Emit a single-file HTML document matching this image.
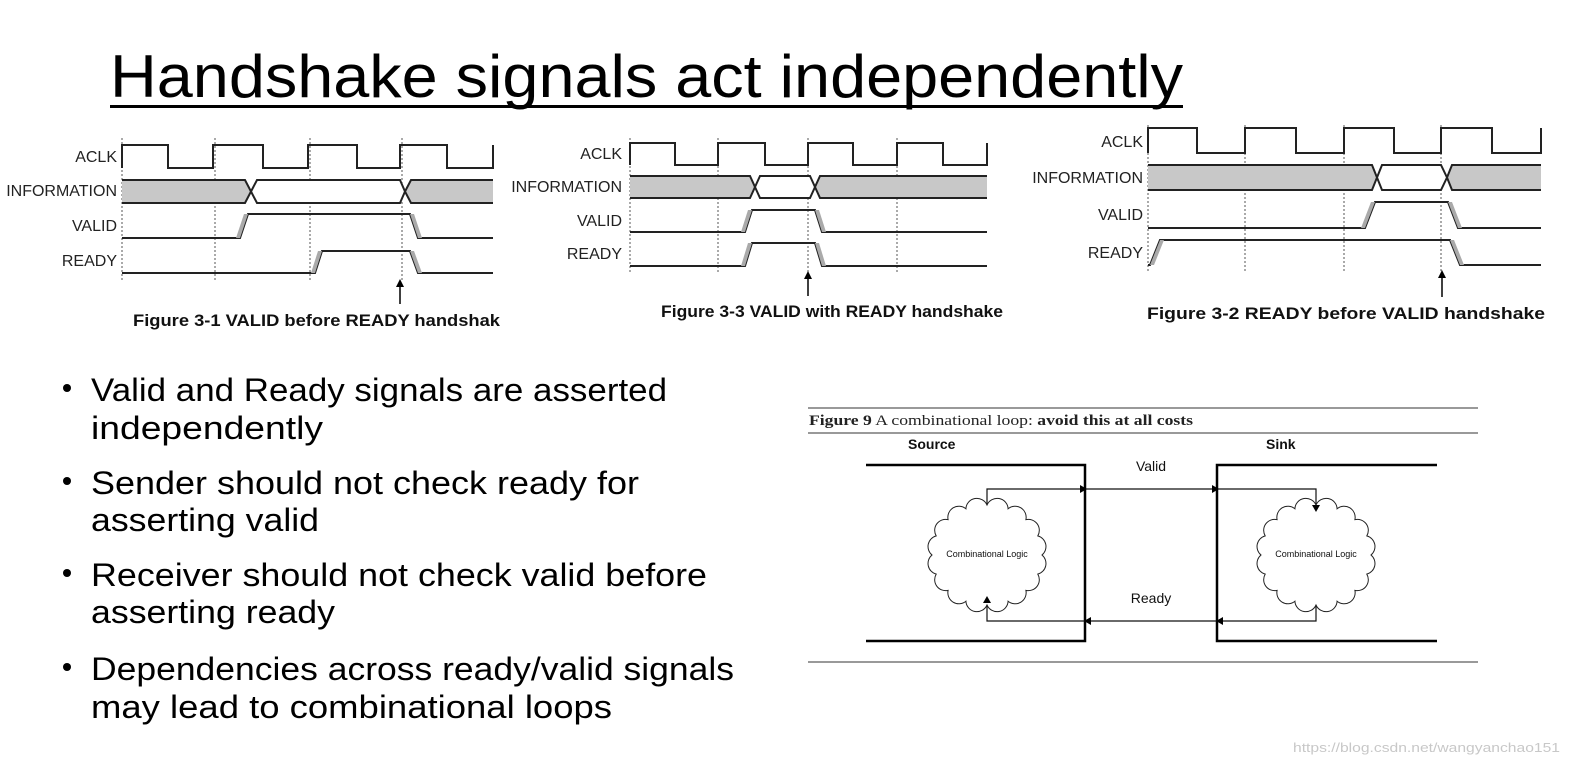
<!DOCTYPE html>
<html><head><meta charset="utf-8"><style>
html,body{margin:0;padding:0;background:#fff;}
svg{display:block;}
</style></head><body>
<svg width="1588" height="775" viewBox="0 0 1588 775" xmlns="http://www.w3.org/2000/svg">
<defs>
<path id="cloud" d="M55,0 A11,11 0 0 1 50.8,19.1 A11,11 0 0 1 38.9,35.4 A11,11 0 0 1 21.1,46.2 A11,11 0 0 1 0,50 A11,11 0 0 1 -21.1,46.2 A11,11 0 0 1 -38.9,35.4 A11,11 0 0 1 -50.8,19.1 A11,11 0 0 1 -55,0 A11,11 0 0 1 -50.8,-19.1 A11,11 0 0 1 -38.9,-35.4 A11,11 0 0 1 -21.1,-46.2 A11,11 0 0 1 0,-50 A11,11 0 0 1 21.1,-46.2 A11,11 0 0 1 38.9,-35.4 A11,11 0 0 1 50.8,-19.1 A11,11 0 0 1 55,0 Z" fill="#fff" stroke="#222" stroke-width="1"/>
</defs>
<rect width="1588" height="775" fill="#fff"/>
<!-- Title -->
<text x="110" y="97" font-family="Liberation Sans, sans-serif" font-size="60" textLength="1073" lengthAdjust="spacingAndGlyphs" fill="#000">Handshake signals act independently</text>
<rect x="110" y="105" width="1073" height="3" fill="#000"/>

<g font-family="Liberation Sans, sans-serif" fill="#222" font-size="16">
<!-- Fig 1 -->
<g text-anchor="end"><text x="117" y="162">ACLK</text><text x="117" y="196">INFORMATION</text><text x="117" y="231">VALID</text><text x="117" y="266">READY</text></g>
<g stroke="#555" stroke-dasharray="2,2" stroke-width="1"><line x1="122" y1="138" x2="122" y2="280"/><line x1="215" y1="138" x2="215" y2="280"/><line x1="310" y1="138" x2="310" y2="280"/><line x1="402" y1="138" x2="402" y2="280"/></g>
<g stroke="#222" stroke-width="2" fill="none">
<path d="M122,168 V145 H168 V168 H213 V145 H263 V168 H308 V145 H357 V168 H400 V145 H447 V168 H493 V145"/>
<path d="M122,180 H245 L251,191.5 L245,203 H122" fill="#c8c8c8"/>
<path d="M251,191.5 L257,180 H400 L405,191.5 L400,203 H257 Z" fill="#fff"/>
<path d="M493,180 H411 L405,191.5 L411,203 H493" fill="#c8c8c8"/>
<path d="M122,238 H240 L248,214 H410 L418,238 H493"/>
<path d="M122,273 H315 L322,251 H410 L418,273 H493"/>
</g>
<g fill="#aaa"><polygon points="236,238 240,238 248,214 244,214"/><polygon points="410,214 414,214 422,238 418,238"/><polygon points="311,273 315,273 322,251 318,251"/><polygon points="410,251 414,251 422,273 418,273"/></g>
<line x1="400" y1="304" x2="400" y2="284" stroke="#000" stroke-width="1.5"/><polygon points="396,287 404,287 400,279" fill="#000"/>
<text x="133" y="326" font-weight="bold" font-size="16.5" fill="#111" textLength="367" lengthAdjust="spacingAndGlyphs">Figure 3-1 VALID before READY handshak</text>

<!-- Fig 3 -->
<g text-anchor="end"><text x="622" y="159">ACLK</text><text x="622" y="192">INFORMATION</text><text x="622" y="226">VALID</text><text x="622" y="259">READY</text></g>
<g stroke="#555" stroke-dasharray="2,2" stroke-width="1"><line x1="630" y1="138" x2="630" y2="272"/><line x1="718" y1="138" x2="718" y2="272"/><line x1="808" y1="138" x2="808" y2="272"/><line x1="897" y1="138" x2="897" y2="272"/></g>
<g stroke="#222" stroke-width="2" fill="none">
<path d="M630,165 V143 H675 V165 H718 V143 H765 V165 H808 V143 H853 V165 H897 V143 H943 V165 H987 V143"/>
<path d="M630,176 H750 L755,187 L750,198 H630" fill="#c8c8c8"/>
<path d="M755,187 L760,176 H810 L815,187 L810,198 H760 Z" fill="#fff"/>
<path d="M987,176 H820 L815,187 L820,198 H987" fill="#c8c8c8"/>
<path d="M630,232 H745 L752,210 H815 L822,232 H987"/>
<path d="M630,266 H745 L752,243 H815 L822,266 H987"/>
</g>
<g fill="#aaa"><polygon points="741,232 745,232 752,210 748,210"/><polygon points="815,210 819,210 826,232 822,232"/><polygon points="741,266 745,266 752,243 748,243"/><polygon points="815,243 819,243 826,266 822,266"/></g>
<line x1="808" y1="296" x2="808" y2="276" stroke="#000" stroke-width="1.5"/><polygon points="804,279 812,279 808,271" fill="#000"/>
<text x="661" y="317" font-weight="bold" font-size="16.5" fill="#111" textLength="342" lengthAdjust="spacingAndGlyphs">Figure 3-3 VALID with READY handshake</text>

<!-- Fig 2 -->
<g text-anchor="end"><text x="1143" y="147">ACLK</text><text x="1143" y="183">INFORMATION</text><text x="1143" y="220">VALID</text><text x="1143" y="258">READY</text></g>
<g stroke="#555" stroke-dasharray="2,2" stroke-width="1"><line x1="1148" y1="125" x2="1148" y2="272"/><line x1="1245" y1="125" x2="1245" y2="272"/><line x1="1344" y1="125" x2="1344" y2="272"/><line x1="1441" y1="125" x2="1441" y2="272"/></g>
<g stroke="#222" stroke-width="2" fill="none">
<path d="M1148,153 V128 H1197 V153 H1245 V128 H1296 V153 H1344 V128 H1394 V153 H1441 V128 H1492 V153 H1541 V128"/>
<path d="M1148,165 H1372 L1377,177.5 L1372,190 H1148" fill="#c8c8c8"/>
<path d="M1377,177.5 L1382,165 H1441 L1447,177.5 L1441,190 H1382 Z" fill="#fff"/>
<path d="M1541,165 H1452 L1447,177.5 L1452,190 H1541" fill="#c8c8c8"/>
<path d="M1148,228 H1365 L1375,202 H1448 L1458,228 H1541"/>
<path d="M1148,265 H1150 L1160,240 H1450 L1460,265 H1541"/>
</g>
<g fill="#aaa"><polygon points="1361,228 1365,228 1375,202 1371,202"/><polygon points="1448,202 1452,202 1462,228 1458,228"/><polygon points="1150,265 1154,265 1164,240 1160,240"/><polygon points="1450,240 1454,240 1464,265 1460,265"/></g>
<line x1="1442" y1="297" x2="1442" y2="275" stroke="#000" stroke-width="1.5"/><polygon points="1438,278 1446,278 1442,270" fill="#000"/>
<text x="1147" y="319" font-weight="bold" font-size="16.5" fill="#111" textLength="398" lengthAdjust="spacingAndGlyphs">Figure 3-2 READY before VALID handshake</text>
</g>

<!-- Bullets -->
<g font-family="Liberation Sans, sans-serif" font-size="32" fill="#000" lengthAdjust="spacingAndGlyphs">
<circle cx="67" cy="388" r="4"/><text x="91" y="401" textLength="576" lengthAdjust="spacingAndGlyphs">Valid and Ready signals are asserted</text><text x="91" y="439" textLength="232" lengthAdjust="spacingAndGlyphs">independently</text>
<circle cx="67" cy="481" r="4"/><text x="91" y="494" textLength="548" lengthAdjust="spacingAndGlyphs">Sender should not check ready for</text><text x="91" y="531" textLength="228" lengthAdjust="spacingAndGlyphs">asserting valid</text>
<circle cx="67" cy="573" r="4"/><text x="91" y="586" textLength="616" lengthAdjust="spacingAndGlyphs">Receiver should not check valid before</text><text x="91" y="623" textLength="244" lengthAdjust="spacingAndGlyphs">asserting ready</text>
<circle cx="67" cy="667" r="4"/><text x="91" y="680" textLength="643" lengthAdjust="spacingAndGlyphs">Dependencies across ready/valid signals</text><text x="91" y="718" textLength="521" lengthAdjust="spacingAndGlyphs">may lead to combinational loops</text>
</g>

<!-- Figure 9 -->
<g>
<line x1="808" y1="408" x2="1478" y2="408" stroke="#999" stroke-width="2"/>
<line x1="808" y1="433" x2="1478" y2="433" stroke="#999" stroke-width="2"/>
<line x1="808" y1="662" x2="1478" y2="662" stroke="#999" stroke-width="2"/>
<text x="809" y="425" font-family="Liberation Serif, serif" font-size="14.5" fill="#222" textLength="384" lengthAdjust="spacingAndGlyphs"><tspan font-weight="bold">Figure 9</tspan> A combinational loop: <tspan font-weight="bold">avoid this at all costs</tspan></text>
<g stroke="#000" stroke-width="2.5" fill="none">
<path d="M866,465 H1085 V641 H866"/>
<path d="M1437,465 H1217 V641 H1437"/>
</g>
<g stroke="#111" stroke-width="1.2" fill="none">
<path d="M987,508 V489 H1316 V508"/>
<path d="M1316,600 V621 H987 V606"/>
</g>
<use href="#cloud" transform="translate(987,555)"/>
<use href="#cloud" transform="translate(1316,555)"/>
<g font-family="Liberation Sans, sans-serif" fill="#111">
<text x="908" y="449" font-size="14" font-weight="bold">Source</text>
<text x="1266" y="449" font-size="14" font-weight="bold">Sink</text>
<text x="1151" y="471" font-size="14" text-anchor="middle">Valid</text>
<text x="1151" y="603" font-size="14" text-anchor="middle">Ready</text>
<text x="987" y="557" font-size="9" text-anchor="middle">Combinational Logic</text>
<text x="1316" y="557" font-size="9" text-anchor="middle">Combinational Logic</text>
</g>
<g fill="#000">
<polygon points="1080,485 1087,489 1080,493"/><polygon points="1212,485 1219,489 1212,493"/>
<polygon points="1312,505 1320,505 1316,512"/>
<polygon points="1091,617 1084,621 1091,625"/><polygon points="1223,617 1216,621 1223,625"/>
<polygon points="983,603 991,603 987,596"/>
</g>
</g>
<text x="1560" y="752" text-anchor="end" font-family="Liberation Sans, sans-serif" font-size="13" fill="#c8c8c8" textLength="267" lengthAdjust="spacingAndGlyphs">https://blog.csdn.net/wangyanchao151</text>
</svg>
</body></html>
